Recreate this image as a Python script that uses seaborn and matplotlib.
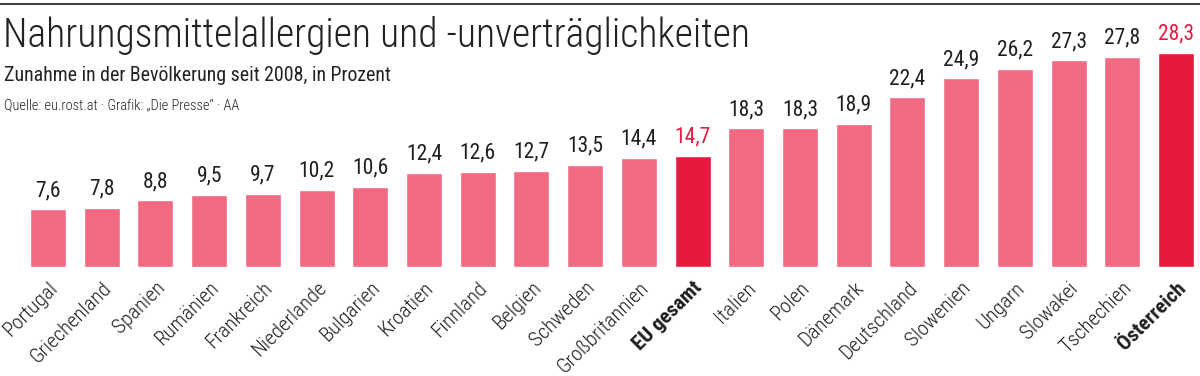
import numpy as np
import pandas as pd
import seaborn as sns
import matplotlib.pyplot as plt

# data
laender = ["Portugal", "Griechenland", "Spanien", "Rumänien", "Frankreich", "Niederlande",
           "Bulgarien", "Kroatien", "Finnland", "Belgien", "Schweden", "Großbritannien",
           "EU gesamt", "Italien", "Polen", "Dänemark", "Deutschland", "Slowenien",
           "Ungarn", "Slowakei", "Tschechien", "Österreich"]
werte = [7.6, 7.8, 8.8, 9.5, 9.7, 10.2, 10.6, 12.4, 12.6, 12.7, 13.5, 14.4,
         14.7, 18.3, 18.3, 18.9, 22.4, 24.9, 26.2, 27.3, 27.8, 28.3]
hervorgehoben = ["EU gesamt", "Österreich"]

PINK = "#f06a84"
ROT = "#e8193f"
SCHWARZ = "#1e1e1e"

sns.set_theme(style="white")
plt.rcParams['font.family'] = ['Roboto Condensed', 'DejaVu Sans']

df = pd.DataFrame({"land": laender, "wert": werte})
df["gruppe"] = np.where(df["land"].isin(hervorgehoben), "rot", "pink")

fig = plt.figure(figsize=(12, 3.76), dpi=100)
ax = fig.add_axes([14 / 1200, 109 / 376, 1186 / 1200, 237 / 376])

sns.barplot(data=df, x="land", y="wert", hue="gruppe", palette={"pink": PINK, "rot": ROT},
            width=0.67, dodge=False, legend=False, ax=ax, saturation=1)

ax.set_xlim(-0.633, 21.447)
ax.set_ylim(0, 31.3)
ax.set_xlabel("")
ax.set_ylabel("")
ax.set_yticks([])
sns.despine(ax=ax, left=True, bottom=True)

for i, (land, w) in enumerate(zip(laender, werte)):
    farbe = ROT if land in hervorgehoben else SCHWARZ
    ax.annotate(f"{w:.1f}".replace(".", ","), (i, w), xytext=(0, 6), textcoords="offset points",
                ha="center", va="bottom", fontsize=15.5, color=farbe, fontweight="normal")

ax.set_xticks(range(len(laender)))
ax.set_xticklabels(laender, rotation=45, ha="right", rotation_mode="anchor", fontsize=15,
                   color=SCHWARZ, fontweight="light")
for lab in ax.get_xticklabels():
    if lab.get_text() in hervorgehoben:
        lab.set_fontweight("bold")
ax.tick_params(axis="x", length=0, pad=8)

# top rule and headings
fig.add_artist(plt.Line2D([0, 1], [1 - 4 / 376, 1 - 4 / 376], color="#444444", lw=1.5))
fig.text(3 / 1200, 1 - 47 / 376, "Nahrungsmittelallergien und -unverträglichkeiten",
         fontsize=28.6, color="#222222", va="baseline", fontweight="light")
fig.text(4 / 1200, 1 - 81 / 376, "Zunahme in der Bevölkerung seit 2008, in Prozent",
         fontsize=14.3, color="#222222", va="baseline")
fig.text(4 / 1200, 1 - 109 / 376, "Quelle: eu.rost.at · Grafik: „Die Presse“ · AA",
         fontsize=10.4, color="#222222", va="baseline", fontweight="light")

fig.savefig("out.png", dpi=100)
